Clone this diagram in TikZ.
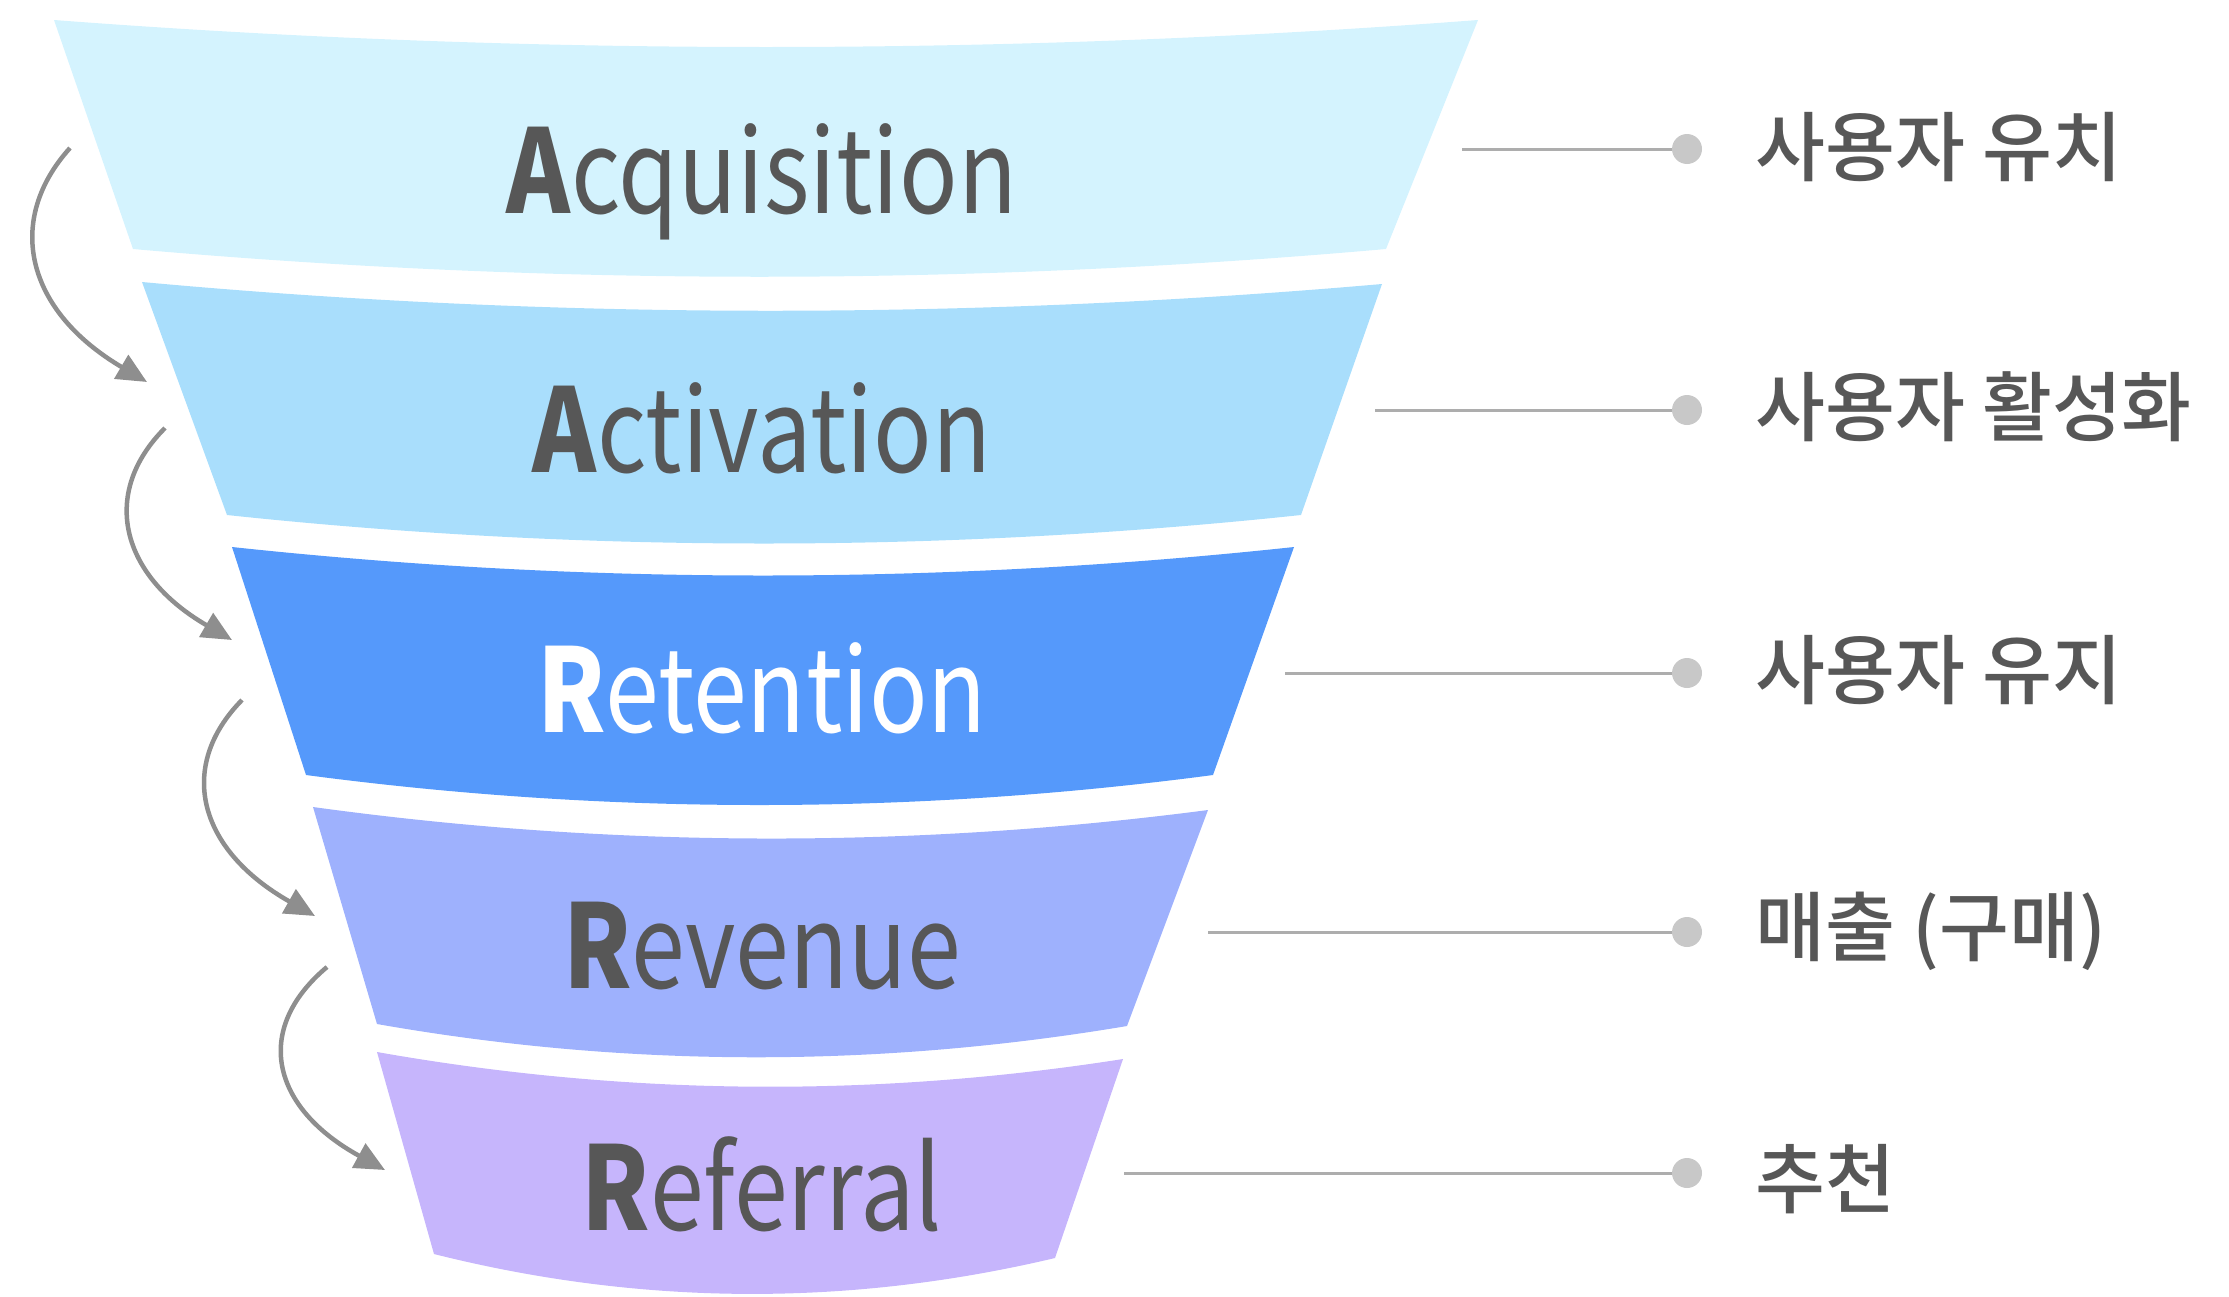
\documentclass[tikz,border=0pt]{standalone}
\usepackage{fontspec}
\setmainfont{Noto Sans CJK KR}
\newfontfamily\krfont{Noto Sans CJK KR Medium}
\newfontfamily\enfont[FakeStretch=0.835]{Noto Sans CJK KR}
\usetikzlibrary{arrows.meta}
\definecolor{bandA}{HTML}{D4F3FE}
\definecolor{bandB}{HTML}{A9DEFC}
\definecolor{bandC}{HTML}{5599FB}
\definecolor{bandD}{HTML}{9EB1FD}
\definecolor{bandE}{HTML}{C6B5FC}
\definecolor{txtgray}{HTML}{575757}
\definecolor{linegray}{HTML}{ADADAD}
\definecolor{dotgray}{HTML}{C8C8C8}
\definecolor{arrgray}{HTML}{8E8E8E}
\tikzset{
  stagetext/.style={inner sep=0pt, anchor=base, text=txtgray, font=\enfont\fontsize{116}{120}\selectfont},
  labeltext/.style={inner sep=0pt, anchor=base west, text=txtgray, font=\krfont\fontsize{76}{80}\selectfont},
  leader/.style={draw=linegray, line width=3pt},
  enddot/.style={circle, fill=dotgray, minimum size=30pt, inner sep=0pt},
  flowarrow/.style={draw=arrgray, line width=4.5pt, -{Triangle[length=30pt,width=27pt]}},
}
\begin{document}
\begin{tikzpicture}[x=1pt,y=-1pt]
\useasboundingbox (0,0) rectangle (2229,1296);
% funnel bands
\fill[bandA] (54,20) .. controls (529,56) and (1003,56) .. (1478,20) -- (1386,249)
  .. controls (968,286) and (551,286) .. (133,249) -- cycle;
\fill[bandB] (142,282) .. controls (555,320) and (969,320) .. (1382,284) -- (1301,515)
  .. controls (943,553) and (585,553) .. (227,515) -- cycle;
\fill[bandC] (232,547) .. controls (586,585) and (940,585) .. (1294,547) -- (1213,775)
  .. controls (911,815) and (608,815) .. (306,775) -- cycle;
\fill[bandD] (313,807) .. controls (611,848) and (910,849) .. (1208,810) -- (1127,1026)
  .. controls (877,1068) and (627,1068) .. (377,1024) -- cycle;
\fill[bandE] (377,1052) .. controls (626,1096) and (874,1098) .. (1123,1059) -- (1055,1258)
  .. controls (848,1307) and (641,1306) .. (434,1254) -- cycle;
% stage names
\node[stagetext] (acq) at (762,213) {\textbf{A}cquisition};
\node[stagetext] (act) at (762,472) {\textbf{A}ctivation};
\node[stagetext, text=white] (ret) at (762,732) {\textbf{R}etention};
\node[stagetext] (rev) at (762,988) {\textbf{R}evenue};
\node[stagetext] (ref) at (762,1230) {\textbf{R}eferral};
% leader lines and dots
\coordinate (l1) at (1462,149);
\coordinate (l2) at (1375,410);
\coordinate (l3) at (1285,673);
\coordinate (l4) at (1208,932);
\coordinate (l5) at (1124,1173);
\node[enddot] (d1) at (1687,149) {};
\node[enddot] (d2) at (1687,410) {};
\node[enddot] (d3) at (1687,673) {};
\node[enddot] (d4) at (1687,932) {};
\node[enddot] (d5) at (1687,1173) {};
\draw[leader] (l1) -- (d1);
\draw[leader] (l2) -- (d2);
\draw[leader] (l3) -- (d3);
\draw[leader] (l4) -- (d4);
\draw[leader] (l5) -- (d5);
% labels
\node[labeltext] (k1) at (1755,175) {사용자 유치};
\node[labeltext] (k2) at (1755,435) {사용자 활성화};
\node[labeltext] (k3) at (1755,698) {사용자 유지};
\node[labeltext] (k4) at (1755,955) {매출 (구매)};
\node[labeltext] (k5) at (1755,1207) {추천};
% flow arrows
\coordinate (s1) at (70,148);   \coordinate (t1) at (147,382);
\coordinate (s2) at (165,428);  \coordinate (t2) at (232,640);
\coordinate (s3) at (242,700);  \coordinate (t3) at (315,916);
\coordinate (s4) at (327,967);  \coordinate (t4) at (385,1170);
\draw[flowarrow] (s1) .. controls (5,220) and (25,310) .. (t1);
\draw[flowarrow] (s2) .. controls (100,493) and (120,575) .. (t2);
\draw[flowarrow] (s3) .. controls (177,766) and (197,849) .. (t3);
\draw[flowarrow] (s4) .. controls (252,1030) and (272,1108) .. (t4);
\end{tikzpicture}
\end{document}
